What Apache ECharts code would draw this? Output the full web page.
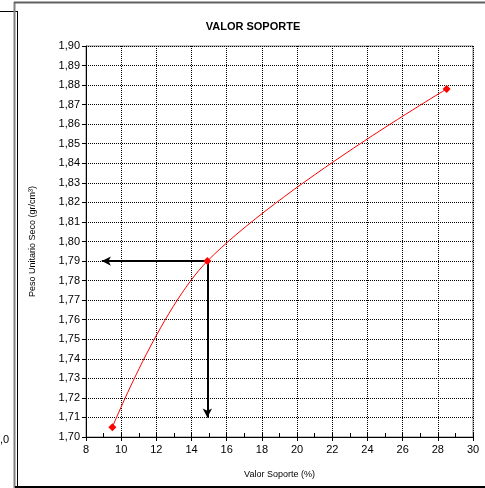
<!DOCTYPE html>
<html>
<head>
<meta charset="utf-8">
<script src="https://cdn.jsdelivr.net/npm/echarts@6/dist/echarts.min.js"></script>
<style>
html,body{margin:0;padding:0;background:#fff;}
#c{width:485px;height:488px;}
</style>
</head>
<body>
<div id="c"></div>
<script>
// Data
var valorSoporte = [9.5, 14.9, 28.5];
var pesoUnitario = [1.705, 1.79, 1.878];
var lecturaX = 14.9;      // reading point (CBR)
var lecturaY = 1.79;      // reading point (density)
var flechaIzqX = 8.9;     // horizontal arrow end (x value)
var flechaAbajoY = 1.71;  // vertical arrow end (y value)
var xMin = 8, xMax = 30, xStep = 2;
var yMin = 1.70, yMax = 1.90, yStep = 0.01;

var chart = echarts.init(document.getElementById('c'), null, {renderer: 'canvas'});
var FONT = 'Liberation Sans, Arial, sans-serif';
var fmt = function (v) { return v.toFixed(2).replace('.', ','); };

var points = valorSoporte.map(function (x, i) { return [x, pesoUnitario[i]]; });

chart.setOption({
  animation: false,
  backgroundColor: '#fff',
  title: {
    text: 'VALOR SOPORTE',
    left: 248, top: 16, textAlign: 'center',
    textStyle: {fontFamily: FONT, fontSize: 11, fontWeight: 'bold', color: '#000'}
  },
  grid: {left: 86, top: 46, right: 12, bottom: 51, show: true, borderColor: '#808080', borderWidth: 1},
  xAxis: [{
    type: 'value', min: xMin, max: xMax, interval: xStep,
    name: 'Valor Soporte (%)', nameLocation: 'middle', nameGap: 33,
    nameTextStyle: {fontFamily: FONT, fontSize: 9, color: '#000'},
    axisLine: {show: true, onZero: false, lineStyle: {color: '#000', width: 1}},
    axisTick: {show: true, length: 4, lineStyle: {color: '#000'}},
    axisLabel: {fontFamily: FONT, fontSize: 11, color: '#000', margin: 7},
    splitLine: {show: true, lineStyle: {color: '#000', type: 'dotted', width: 1}}
  }, {
    type: 'value', min: xMin, max: xMax, interval: 1, position: 'bottom',
    axisLine: {show: false},
    axisTick: {show: true, inside: true, length: 4, lineStyle: {color: '#000'}},
    axisLabel: {show: false},
    splitLine: {show: false}
  }],
  yAxis: {
    type: 'value', min: yMin, max: yMax, interval: yStep,
    name: 'Peso Unitario Seco (gr/cm³)', nameLocation: 'middle', nameGap: 49,
    nameTextStyle: {fontFamily: FONT, fontSize: 9, color: '#000'},
    axisLine: {show: true, onZero: false, lineStyle: {color: '#000', width: 1}},
    axisTick: {show: true, length: 4, lineStyle: {color: '#000'}},
    axisLabel: {fontFamily: FONT, fontSize: 11, color: '#000', margin: 6, formatter: fmt},
    splitLine: {show: true, lineStyle: {color: '#000', type: 'dotted', width: 1}}
  },
  series: [{
    type: 'line',
    xAxisIndex: 0,
    data: points,
    smooth: 0.35,
    symbol: 'diamond', symbolSize: 8,
    itemStyle: {color: '#FF0000'},
    lineStyle: {color: '#FF0000', width: 1},
    z: 5,
    silent: true,
    markLine: {
      silent: true,
      animation: false,
      symbol: ['none', 'arrow'],
      symbolSize: [7, 9],
      label: {show: false},
      lineStyle: {color: '#000', width: 2, type: 'solid'},
      emphasis: {disabled: true},
      data: [
        [{coord: [lecturaX, lecturaY]}, {coord: [flechaIzqX, lecturaY]}],
        [{coord: [lecturaX, lecturaY]}, {coord: [lecturaX, flechaAbajoY]}]
      ]
    }
  }],
  graphic: [
    {type: 'line', shape: {x1: 0, y1: 11.5, x2: 17.5, y2: 11.5}, style: {stroke: '#000', lineWidth: 1}},
    {type: 'line', shape: {x1: 17.5, y1: 11, x2: 17.5, y2: 488}, style: {stroke: '#000', lineWidth: 1}},
    {type: 'line', shape: {x1: 14.5, y1: 2, x2: 14.5, y2: 488}, style: {stroke: '#808080', lineWidth: 2}},
    {type: 'line', shape: {x1: 14, y1: 2.5, x2: 485, y2: 2.5}, style: {stroke: '#606060', lineWidth: 2}},
    {type: 'line', shape: {x1: 15, y1: 487, x2: 485, y2: 487}, style: {stroke: '#000', lineWidth: 2}},
    {type: 'text', left: 0, top: 434, style: {text: ',0', font: '11px ' + FONT, fill: '#000'}}
  ]
});
</script>
</body>
</html>
